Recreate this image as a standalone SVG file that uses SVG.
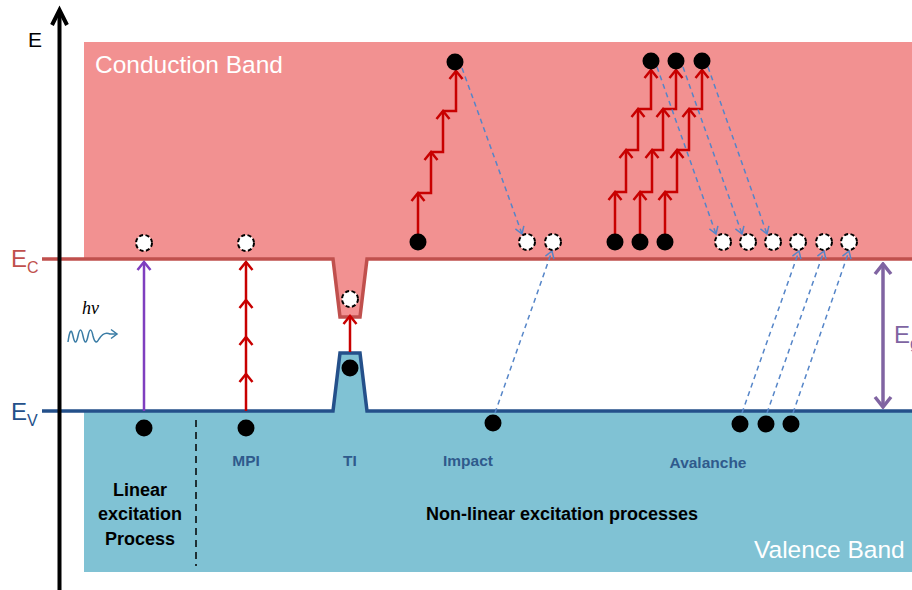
<svg xmlns="http://www.w3.org/2000/svg" width="912" height="590" viewBox="0 0 912 590">
<style>
  .band-c { fill: #F29191; }
  .band-v { fill: #80C2D4; }
  .ec { fill: none; stroke: #C0504D; stroke-width: 3.5; }
  .ev { fill: none; stroke: #24508A; stroke-width: 3.5; }
  .red { fill: none; stroke: #C80000; stroke-width: 2.5; marker-end: url(#chevRed); }
  .blue { fill: none; stroke: #5585C8; stroke-width: 1.5; stroke-dasharray: 5 4; marker-end: url(#chevBlue); }
  .hole { fill: #FFFFFF; stroke: #000000; stroke-width: 2; stroke-dasharray: 4 2.5; }
  .elec { fill: #000000; }
  .lbl { font-family: "Liberation Sans", Arial, sans-serif; font-weight: bold; font-size: 15.5px; fill: #2F5A8C; text-anchor: middle; }
  .blk { font-family: "Liberation Sans", Arial, sans-serif; font-weight: bold; font-size: 18px; fill: #000000; }
  .band { font-family: "Liberation Sans", Arial, sans-serif; font-size: 24.5px; fill: #FFFFFF; }
</style>
<defs>
  <marker id="chevRed" viewBox="-12 -10 14 20" refX="0" refY="0" markerWidth="14" markerHeight="20" markerUnits="userSpaceOnUse" orient="auto">
    <path d="M-8,-6.5 L0,0 L-8,6.5" fill="none" stroke="#C80000" stroke-width="2.5"/>
  </marker>
  <marker id="chevPurple" viewBox="-12 -10 14 20" refX="0" refY="0" markerWidth="14" markerHeight="20" markerUnits="userSpaceOnUse" orient="auto">
    <path d="M-8,-6.5 L0,0 L-8,6.5" fill="none" stroke="#7F3FBF" stroke-width="2.5"/>
  </marker>
  <marker id="chevBlue" viewBox="-10 -8 12 16" refX="0" refY="0" markerWidth="12" markerHeight="16" markerUnits="userSpaceOnUse" orient="auto">
    <path d="M-7,-4.5 L0,0 L-7,4.5" fill="none" stroke="#5585C8" stroke-width="1.5"/>
  </marker>
  <marker id="chevEg" viewBox="-14 -12 16 24" refX="0" refY="0" markerWidth="16" markerHeight="24" markerUnits="userSpaceOnUse" orient="auto-start-reverse">
    <path d="M-10,-8 L0,0 L-10,8" fill="none" stroke="#8064A2" stroke-width="3.5"/>
  </marker>
  <marker id="chevWave" viewBox="-10 -8 12 16" refX="0" refY="0" markerWidth="12" markerHeight="16" markerUnits="userSpaceOnUse" orient="auto">
    <path d="M-6,-4.5 L0,0 L-6,4.5" fill="none" stroke="#3A7CA5" stroke-width="1.5"/>
  </marker>
</defs>

<!-- bands -->
<g id="bands">
  <rect class="band-c" x="84" y="42" width="828" height="217"/>
  <rect class="band-v" x="84" y="411" width="828" height="161"/>
  <polygon class="band-c" points="333,259 340,317 360,317 367,259"/>
  <polygon class="band-v" points="333,411 340,353 360,353 367,411"/>
  <path class="ec" d="M42 259 H333 L340 317 H360 L367 259 H912"/>
  <path class="ev" d="M42 411 H333 L340 353 H360 L367 411 H912"/>
  <text class="band" x="95" y="72.5">Conduction Band</text>
  <text class="band" x="754" y="558">Valence Band</text>
</g>

<!-- axis -->
<g id="axis">
  <line x1="59.5" y1="590" x2="59.5" y2="13" stroke="#000" stroke-width="4"/>
  <polyline points="52,25 59.5,10 67,25" fill="none" stroke="#000" stroke-width="4" stroke-linejoin="miter"/>
  <text x="28" y="47" font-family="Liberation Sans, Arial, sans-serif" font-size="21" fill="#000">E</text>
  <text x="11" y="267" font-family="Liberation Sans, Arial, sans-serif" font-size="24" fill="#C0504D">E<tspan font-size="16" dy="6">C</tspan></text>
  <text x="11" y="420" font-family="Liberation Sans, Arial, sans-serif" font-size="24" fill="#24508A">E<tspan font-size="16" dy="6">V</tspan></text>
  <text x="894" y="343" font-family="Liberation Sans, Arial, sans-serif" font-size="24" fill="#8064A2">E<tspan font-size="16" dy="6">g</tspan></text>
</g>

<!-- connectors -->
<g id="connectors">
  <!-- linear -->
  <line x1="144" y1="411" x2="144" y2="262" fill="none" stroke="#7F3FBF" stroke-width="2.5" marker-end="url(#chevPurple)"/>
  <!-- photon -->
  <text x="82" y="314" font-family="Liberation Serif, serif" font-style="italic" font-size="18" fill="#000">hν</text>
  <path d="M68 342 Q70.5 324 73 336 Q75.5 348 78 336 Q80.5 324 83 336 Q85.5 348 88 336 Q90.5 324 93 336 Q95.5 346 99 339 Q104 331 110 334 L117 334" fill="none" stroke="#3A7CA5" stroke-width="1.5" marker-end="url(#chevWave)"/>
  <!-- MPI -->
  <path class="red" d="M246 411 V374"/>
  <path class="red" d="M246 374 V337"/>
  <path class="red" d="M246 337 V300"/>
  <path class="red" d="M246 300 V262"/>
  <!-- TI -->
  <path class="red" d="M350 352 V316"/>
  <!-- impact staircase -->
  <path class="red" d="M418 234 V193"/>
  <path class="red" d="M418 193 H431 V152"/>
  <path class="red" d="M431 152 H443 V111"/>
  <path class="red" d="M443 111 H456 V71"/>
  <!-- avalanche staircases -->
  <path class="red" d="M615 234 V192"/>
  <path class="red" d="M615 192 H626 V150"/>
  <path class="red" d="M626 150 H638 V109"/>
  <path class="red" d="M638 109 H651 V70"/>
  <path class="red" d="M640 234 V192"/>
  <path class="red" d="M640 192 H652 V150"/>
  <path class="red" d="M652 150 H663 V109"/>
  <path class="red" d="M663 109 H676 V70"/>
  <path class="red" d="M665 234 V192"/>
  <path class="red" d="M665 192 H677 V150"/>
  <path class="red" d="M677 150 H689 V109"/>
  <path class="red" d="M689 109 H702 V70"/>
  <!-- blue dashed -->
  <line class="blue" x1="462" y1="68" x2="522" y2="234"/>
  <line class="blue" x1="495" y1="413" x2="552" y2="251"/>
  <line class="blue" x1="657" y1="67" x2="716" y2="234"/>
  <line class="blue" x1="683" y1="67" x2="742" y2="234"/>
  <line class="blue" x1="708" y1="67" x2="767" y2="234"/>
  <line class="blue" x1="742" y1="413" x2="799" y2="251"/>
  <line class="blue" x1="767" y1="413" x2="824" y2="251"/>
  <line class="blue" x1="793" y1="413" x2="849" y2="251"/>
  <!-- Eg -->
  <line x1="883" y1="264" x2="883" y2="407" stroke="#8064A2" stroke-width="3.5" marker-start="url(#chevEg)" marker-end="url(#chevEg)"/>
  <!-- separator -->
  <line x1="196" y1="420" x2="196" y2="566" stroke="#000" stroke-width="1.5" stroke-dasharray="7 5"/>
</g>

<!-- nodes -->
<g id="linear">
  <circle class="hole" cx="144" cy="243" r="8"/>
  <circle class="elec" cx="144" cy="428" r="8.5"/>
  <text class="blk" x="140" y="496" text-anchor="middle">Linear</text>
  <text class="blk" x="140" y="520" text-anchor="middle">excitation</text>
  <text class="blk" x="140" y="545" text-anchor="middle">Process</text>
</g>
<g id="mpi">
  <circle class="hole" cx="246" cy="243" r="8"/>
  <circle class="elec" cx="246" cy="428" r="8.5"/>
  <text class="lbl" x="246" y="466">MPI</text>
</g>
<g id="ti">
  <circle class="hole" cx="350" cy="299" r="8"/>
  <circle class="elec" cx="350" cy="368" r="8.5"/>
  <text class="lbl" x="350" y="466">TI</text>
</g>
<g id="impact">
  <circle class="elec" cx="418" cy="242" r="8.5"/>
  <circle class="elec" cx="455" cy="62" r="8.5"/>
  <circle class="hole" cx="527" cy="242" r="8"/>
  <circle class="hole" cx="553" cy="242" r="8"/>
  <circle class="elec" cx="493" cy="423" r="8.5"/>
  <text class="lbl" x="468" y="466">Impact</text>
</g>
<g id="avalanche">
  <circle class="elec" cx="615" cy="242" r="8.5"/>
  <circle class="elec" cx="640" cy="242" r="8.5"/>
  <circle class="elec" cx="665" cy="242" r="8.5"/>
  <circle class="elec" cx="651" cy="61" r="8.5"/>
  <circle class="elec" cx="676" cy="61" r="8.5"/>
  <circle class="elec" cx="702" cy="61" r="8.5"/>
  <circle class="hole" cx="723" cy="242" r="8"/>
  <circle class="hole" cx="748" cy="242" r="8"/>
  <circle class="hole" cx="773" cy="242" r="8"/>
  <circle class="hole" cx="798" cy="242" r="8"/>
  <circle class="hole" cx="824" cy="242" r="8"/>
  <circle class="hole" cx="849" cy="242" r="8"/>
  <circle class="elec" cx="740" cy="424" r="8.5"/>
  <circle class="elec" cx="766" cy="424" r="8.5"/>
  <circle class="elec" cx="791" cy="424" r="8.5"/>
  <text class="lbl" x="708" y="468">Avalanche</text>
</g>
<g id="nonlinear">
  <text class="blk" x="562" y="520" text-anchor="middle">Non-linear excitation processes</text>
</g>
</svg>
